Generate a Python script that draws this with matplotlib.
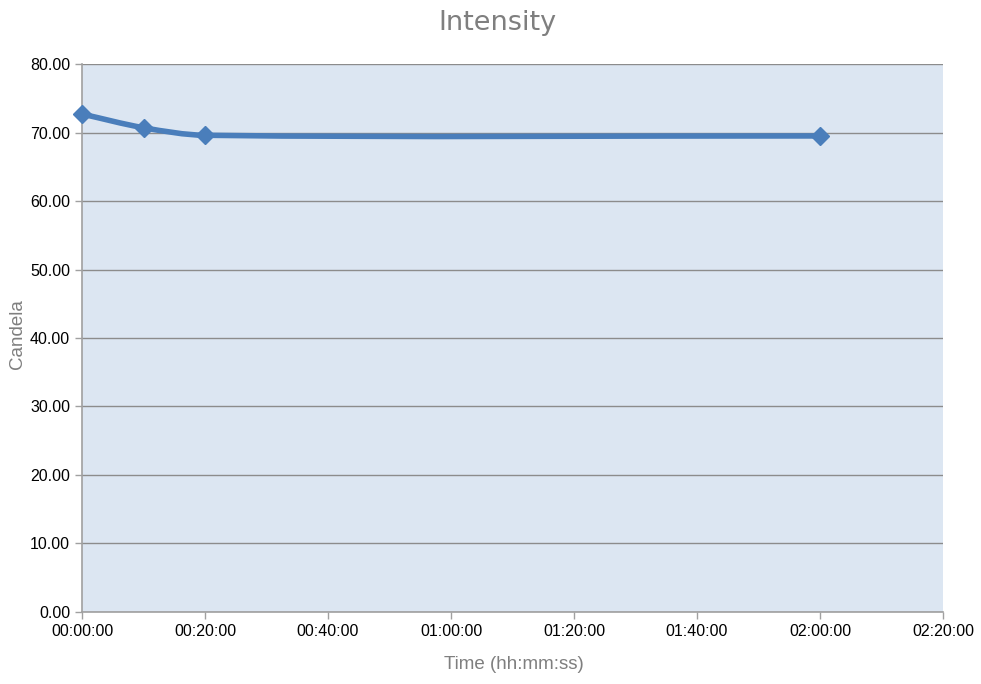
import matplotlib.pyplot as plt
from matplotlib.path import Path
from matplotlib.patches import PathPatch
from matplotlib.ticker import FuncFormatter, MultipleLocator

# données (temps en minutes)
temps_min = [0, 10, 20, 120]
candela = [72.7, 70.7, 69.6, 69.5]

couleur = '#4a7ebb'

fig = plt.figure(figsize=(9.81, 6.84), dpi=100, facecolor='white')
ax = fig.add_axes([0.0836, 0.1053, 0.8777, 0.8011])
ax.set_facecolor('#dce6f2')

# courbe lissée (Hermite -> Bézier) passant par les points
n = len(temps_min)
pentes = []
for i in range(n):
    a = max(i - 1, 0)
    b = min(i + 1, n - 1)
    pentes.append((candela[b] - candela[a]) / (temps_min[b] - temps_min[a]))
verts = [(temps_min[0], candela[0])]
codes = [Path.MOVETO]
for i in range(n - 1):
    h = (temps_min[i + 1] - temps_min[i]) / 3
    verts += [(temps_min[i] + h, candela[i] + pentes[i] * h),
              (temps_min[i + 1] - h, candela[i + 1] - pentes[i + 1] * h),
              (temps_min[i + 1], candela[i + 1])]
    codes += [Path.CURVE4] * 3
ax.add_patch(PathPatch(Path(verts, codes), facecolor='none', edgecolor=couleur,
                       linewidth=4, capstyle='round', joinstyle='round', zorder=3))
ax.plot(temps_min, candela, linestyle='none', marker='D', markersize=9,
        color=couleur, zorder=4, clip_on=False)

ax.set_xlim(0, 140)
ax.set_ylim(0, 80)
ax.xaxis.set_major_locator(MultipleLocator(20))
ax.yaxis.set_major_locator(MultipleLocator(10))
ax.xaxis.set_major_formatter(FuncFormatter(
    lambda v, p: '%02d:%02d:00' % (int(v) // 60, int(v) % 60)))
ax.yaxis.set_major_formatter(FuncFormatter(lambda v, p: '%.2f' % v))

ax.grid(True, axis='y', color='#8c8c8c', linewidth=1)
ax.set_axisbelow(True)
for s in ['top', 'right']:
    ax.spines[s].set_visible(False)
for s in ['left', 'bottom']:
    ax.spines[s].set_color('#a0a0a0')
    ax.spines[s].set_linewidth(1.2)
ax.tick_params(colors='#a0a0a0', labelcolor='black', labelsize=11.5, length=5,
               width=1)
for lab in ax.get_xticklabels() + ax.get_yticklabels():
    lab.set_fontfamily('Liberation Sans')

fig.text(0.507, 0.967, 'Intensity', ha='center', va='center', fontsize=19.5,
         color='#7f7f7f', fontfamily='DejaVu Sans')
fig.text(0.524, 0.029, 'Time (hh:mm:ss)', ha='center', va='center', fontsize=13.5,
         color='#7f7f7f', fontfamily='Liberation Sans')
fig.text(0.018, 0.512, 'Candela', ha='center', va='center', fontsize=13.5,
         color='#7f7f7f', rotation=90, fontfamily='Liberation Sans')

plt.savefig('out.png', dpi=100, facecolor='white')
